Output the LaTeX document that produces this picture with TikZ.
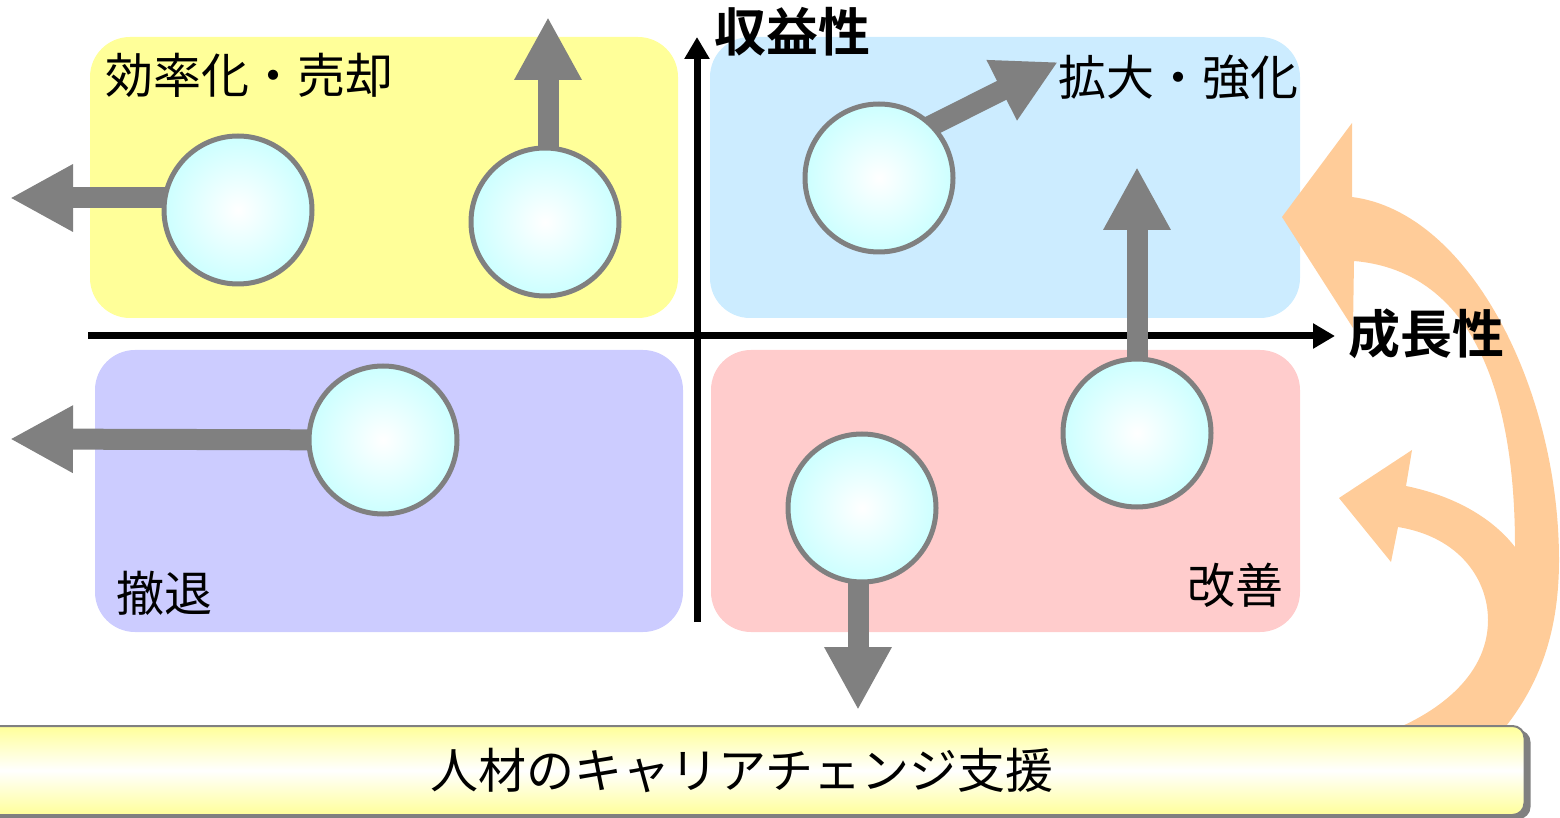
\documentclass[tikz,border=0pt]{standalone}
\usepackage{fontspec}
\setmainfont{Noto Sans CJK JP}[BoldFont={Noto Sans CJK JP Bold}]
\usetikzlibrary{arrows.meta,shadows}
\definecolor{quadyellow}{HTML}{FFFF99}
\definecolor{quadblue}{HTML}{CCECFF}
\definecolor{quadpurple}{HTML}{CCCCFF}
\definecolor{quadpink}{HTML}{FFCCCC}
\definecolor{orangearrow}{HTML}{FFCC99}
\definecolor{arrowgray}{HTML}{808080}
\definecolor{ballcyan}{HTML}{CCFFFF}
\begin{document}
\begin{tikzpicture}[x=0.5pt,y=-0.5pt,
  quad/.style={rounded corners=20pt},
  ball/.style={circle, minimum size=74pt, inner sep=0pt, line width=2.5pt, draw=arrowgray, inner color=white, outer color=ballcyan},
  garrow/.style={draw=arrowgray, line width=10.5pt, -{Triangle[length=31.5pt,width=31.5pt]}},
  axis/.style={line width=3.5pt, -{Triangle[length=11pt,width=12pt]}},
  quadlabel/.style={font=\fontsize{24pt}{24pt}\selectfont, inner sep=0pt},
  axislabel/.style={font=\bfseries\fontsize{26pt}{26pt}\selectfont, inner sep=0pt},
  supportbar/.style={rounded corners=6pt, draw=arrowgray, line width=1pt,
    top color=quadyellow, bottom color=quadyellow, middle color=white,
    minimum width=782.5pt, minimum height=44.5pt, inner sep=0pt,
    general shadow={fill=arrowgray, shadow xshift=3pt, shadow yshift=-2pt},
    font=\fontsize{24pt}{24pt}\selectfont}]
\clip (0,0) rectangle (1560,818);
\fill[quad, quadyellow] (90,37) rectangle (678,318);
\fill[quad, quadblue] (710,37) rectangle (1300,318);
\fill[quad, quadpurple] (95,350) rectangle (683,632);
\fill[quad, quadpink] (711,350) rectangle (1300,632);
\fill[orangearrow] (1352,197) -- (1352,123) -- (1282,217) -- (1353,328) -- (1354,261)
  .. controls (1460,270) and (1515,370) .. (1515,547)
  .. controls (1490,515) and (1450,495) .. (1406,486)
  -- (1412,450) -- (1339,498) -- (1391,562) -- (1398,527)
  .. controls (1460,537) and (1488,580) .. (1488,620)
  .. controls (1488,680) and (1430,715) .. (1393,730)
  -- (1503,730)
  .. controls (1535,690) and (1559,640) .. (1559,560)
  .. controls (1559,390) and (1470,212) .. (1352,197) -- cycle;
\coordinate (xstart) at (88,336);
\coordinate (xend) at (1335,336);
\coordinate (ystart) at (697,622);
\coordinate (yend) at (697,37);
\draw[axis] (xstart) -- (xend);
\draw[axis] (ystart) -- (yend);
\node[axislabel] (profit) at (792,32) {収益性};
\node[axislabel] (growth) at (1426,334) {成長性};
\coordinate (p1) at (238,210);
\coordinate (p2) at (545,222);
\coordinate (p3) at (879,178);
\coordinate (p4) at (383,440);
\coordinate (p5) at (1137,433);
\coordinate (p6) at (862,508);
\coordinate (t1) at (10,198);
\coordinate (t2) at (548,17);
\coordinate (t3) at (1058,62);
\coordinate (t4) at (10,439);
\coordinate (t5) at (1137,167);
\coordinate (t6) at (858,710);
\draw[garrow] ([yshift=6pt]p1) -- (t1);
\draw[garrow] ([xshift=1.5pt]p2) -- (t2);
\draw[garrow] ([yshift=13pt]p3) -- (t3);
\draw[garrow] (p4) -- (t4);
\draw[garrow] (p5) -- (t5);
\draw[garrow] ([xshift=-2pt]p6) -- (t6);
\node[ball] (b1) at (p1) {};
\node[ball] (b2) at (p2) {};
\node[ball] (b3) at (p3) {};
\node[ball] (b4) at (p4) {};
\node[ball] (b5) at (p5) {};
\node[ball] (b6) at (p6) {};
\node[quadlabel] (effic) at (249,75) {効率化・売却};
\node[quadlabel] (expand) at (1178,77) {拡大・強化};
\node[quadlabel] (withdraw) at (164,593) {撤退};
\node[quadlabel] (improve) at (1235,585) {改善};
\node[supportbar] (support) at (742,770.5) {\raisebox{-1.5pt}{人材のキャリアチェンジ支援}};
\end{tikzpicture}
\end{document}
